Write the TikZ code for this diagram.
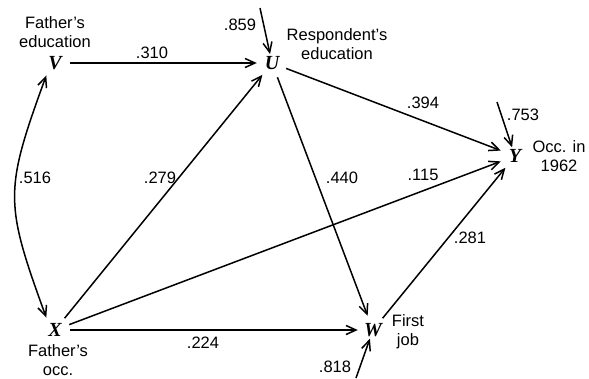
\documentclass[tikz,border=0pt]{standalone}
\usepackage{fontspec}
\setmainfont{Liberation Sans}
\newfontfamily\varfont{Liberation Serif}
\usetikzlibrary{arrows.meta}
\begin{document}
\begin{tikzpicture}[x=1pt,y=-1pt,
  var/.style={circle,minimum size=30pt,inner sep=0pt,font=\varfont\fontsize{20}{20}\selectfont\bfseries\itshape},
  lbl/.style={align=center,inner sep=0pt,font=\fontsize{16.5}{19}\selectfont},
  num/.style={inner sep=0pt,font=\fontsize{16.5}{19}\selectfont},
  arr/.style={line width=1.5pt,-{Straight Barb[length=10pt,width=9pt,line width=1.5pt]}},
  dist/.style={arr,shorten >=-6pt},
  biarr/.style={line width=1.5pt,{Straight Barb[length=10pt,width=9pt,line width=1.5pt]}-{Straight Barb[length=10pt,width=9pt,line width=1.5pt]}}
]
\useasboundingbox (0,0) rectangle (589,378);
\node[var] (V) at (55,63) {V};
\node[var] (U) at (272,63) {U};
\node[var] (Y) at (515,156) {Y};
\node[var] (X) at (55,330) {X};
\node[var] (W) at (373,330) {W};
\coordinate (eU) at (260,8);
\coordinate (eY) at (497,102);
\coordinate (eW) at (356,378);

\node[lbl] (lV) at (55,32) {Father's\\education};
\node[lbl] (lU) at (337,44) {Respondent's\\education};
\node[lbl] (lY) at (559,156) {Occ. in\\1962};
\node[lbl] (lX) at (58,360) {Father's\\occ.};
\node[lbl] (lW) at (408,332) {First\\job};

\draw[arr] (V) -- (U);
\draw[arr] (U) -- (Y);
\draw[arr] (X) -- (U);
\draw[arr] (U) -- (W);
\draw[arr] (X) -- (Y);
\draw[arr] (X) -- (W);
\draw[arr] (W) -- (Y);
\draw[biarr] (V.235) to[out=250,in=110,looseness=1.3] (X.125);
\draw[dist] (eU) -- (U);
\draw[dist] (eY) -- (Y);
\draw[dist] (eW) -- (W);

\node[num] (n310) at (152,53) {.310};
\node[num] (n859) at (240,25) {.859};
\node[num] (n394) at (423,103) {.394};
\node[num] (n753) at (523,115) {.753};
\node[num] (n516) at (35,178) {.516};
\node[num] (n279) at (160,178) {.279};
\node[num] (n440) at (342,178) {.440};
\node[num] (n115) at (423,175) {.115};
\node[num] (n281) at (470,238) {.281};
\node[num] (n224) at (203,343) {.224};
\node[num] (n818) at (335,367) {.818};
\end{tikzpicture}
\end{document}
